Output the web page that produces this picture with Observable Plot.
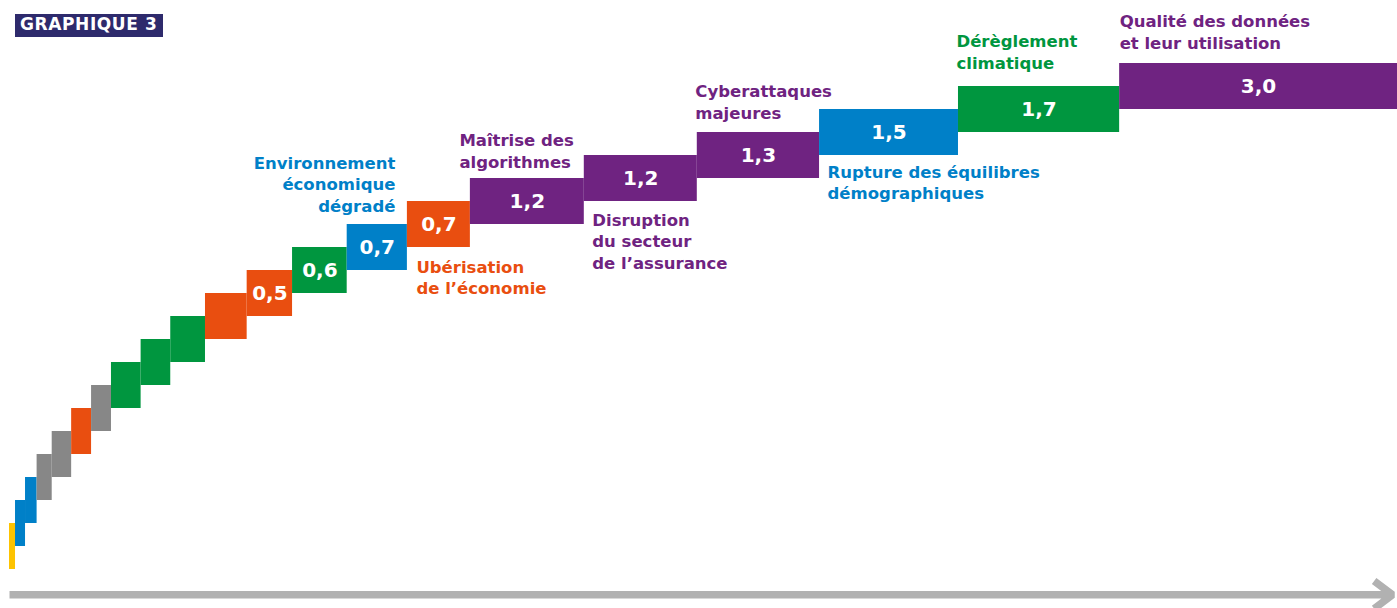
<!DOCTYPE html>
<html><head><meta charset="utf-8">
<script src="https://cdn.jsdelivr.net/npm/d3@7"></script>
<script src="https://cdn.jsdelivr.net/npm/@observablehq/plot@0.6"></script>
<style>
body{margin:0;background:#fff;}
#wrap{position:relative;width:1397px;height:608px;overflow:hidden;}
#title{position:absolute;left:15px;top:14px;width:143px;height:23px;line-height:24px;padding:0 0 0 5px;background:#2E2A6C;color:#fff;font:bold 17px "DejaVu Sans";letter-spacing:0.6px;white-space:nowrap;}
#chart{position:absolute;left:0;top:0;}
</style></head><body>
<div id="wrap"><div id="chart"></div><div id="title">GRAPHIQUE 3</div></div>
<script>
// ---- data ----
const values = [0.065, 0.108, 0.125, 0.163, 0.21, 0.215, 0.215, 0.32, 0.32, 0.375, 0.45,
                0.49, 0.59, 0.65, 0.68, 1.23, 1.22, 1.32, 1.5, 1.74, 3.0];
const groups = ["g-jaune","g-bleu","g-bleu","g-gris","g-gris","g-orange","g-gris","g-vert","g-vert","g-vert","g-orange",
                "g-orange","g-vert","g-bleu","g-orange","g-violet","g-violet","g-violet","g-bleu","g-vert","g-violet"];
const valueLabels = [null,null,null,null,null,null,null,null,null,null,null,
                "0,5","0,6","0,7","0,7","1,2","1,2","1,3","1,5","1,7","3,0"];
const riskNames = [null,null,null,null,null,null,null,null,null,null,null,
                null, null,
                "Environnement\néconomique\ndégradé",
                "Ubérisation\nde l’économie",
                "Maîtrise des\nalgorithmes",
                "Disruption\ndu secteur\nde l’assurance",
                "Cyberattaques\nmajeures",
                "Rupture des équilibres\ndémographiques",
                "Dérèglement\nclimatique",
                "Qualité des données\net leur utilisation"];
const groupDomain = ["g-jaune","g-bleu","g-gris","g-orange","g-vert","g-violet"];
const groupColors = ["#FDC300","#0080C8","#878787","#E94E10","#00963F","#6F2381"];

// ---- layout (label placement) ----
const labelLayout = {
  13: {side:"above", anchor:"end", dx:-12, dy:-13},
  14: {side:"below", anchor:"start", dx:9, dy:10},
  15: {side:"above", anchor:"start", dx:-11, dy:-11},
  16: {side:"below", anchor:"start", dx:8, dy:9},
  17: {side:"above", anchor:"start", dx:-2, dy:-14},
  18: {side:"below", anchor:"start", dx:8, dy:7},
  19: {side:"above", anchor:"start", dx:-2, dy:-18},
  20: {side:"above", anchor:"start", dx:0, dy:-15}
};

const cum = d3.cumsum(values);
const total = cum[cum.length-1];
const data = values.map((v,i)=>({i, v, x1: cum[i]-v, x2: cum[i], group: groups[i], label: valueLabels[i], name: riskNames[i]}));

const font = "DejaVu Sans";
const nameMarks = data.filter(d=>d.name).map(d=>{
  const L = labelLayout[d.i];
  return Plot.text([d], {
    x: L.anchor==="end" ? "x2" : "x1",
    y: L.side==="above" ? (e=>e.i+2) : (e=>e.i),
    text: "name",
    fill: "group",
    textAnchor: L.anchor,
    lineAnchor: L.side==="above" ? "bottom" : "top",
    lineHeight: 1.3,
    dx: L.dx, dy: L.dy,
    fontSize: 16.5, fontWeight: "bold"
  });
});

const plot = Plot.plot({
  width: 1397, height: 608, margin: 0,
  style: {fontFamily: font, background: "white"},
  x: {domain: [0, total], range: [9, 1397], axis: null},
  y: {domain: [0, 22], range: [569, 63], axis: null},
  color: {domain: groupDomain, range: groupColors},
  marks: [
    Plot.arrow([{}], {x1: ()=>0, x2: ()=>total, y1: ()=>-1.1, y2: ()=>-1.1,
      stroke: "#B1B1B1", strokeWidth: 7.5, headLength: 4.6, headAngle: 74, insetEnd: 5,
      strokeLinejoin: "miter", strokeLinecap: "butt"}),
    Plot.rect(data, {x1: "x1", x2: "x2", y1: "i", y2: d=>d.i+2, fill: "group"}),
    Plot.text(data.filter(d=>d.label), {x: d=>(d.x1+d.x2)/2, y: d=>d.i+1, text: "label",
      fill: "white", fontSize: 20, fontWeight: "bold"}),
    ...nameMarks
  ]
});
document.getElementById("chart").appendChild(plot);
</script>
</body></html>
